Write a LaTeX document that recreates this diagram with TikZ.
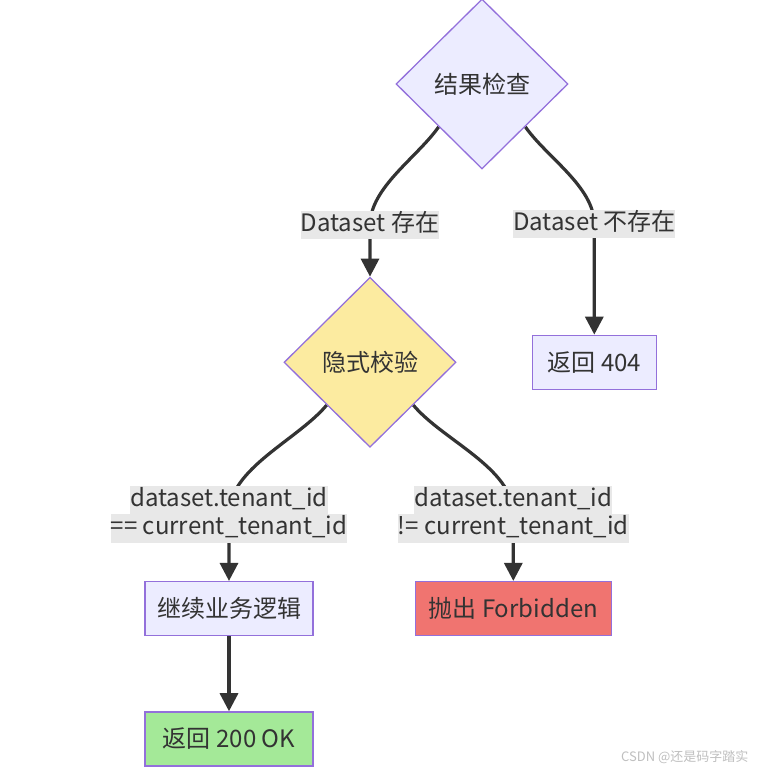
\documentclass[tikz,border=0pt]{standalone}
\usepackage{fontspec}
\setmainfont{Noto Sans CJK SC}
\usepackage{tikz}
\usetikzlibrary{
  shapes.geometric,
  arrows.meta,
  positioning,  % Function "of" (e.g. [below=of x])
  backgrounds,  % Edges go on the background layer
}
\definecolor{ink}{HTML}{333333}
\definecolor{border}{HTML}{9370DB}
\definecolor{lilac}{HTML}{ECECFF}
\definecolor{sand}{HTML}{FCEBA0}
\definecolor{salmon}{HTML}{F07470}
\definecolor{mint}{HTML}{A4E998}
\definecolor{edgebg}{HTML}{E8E8E8}
\setlength{\fboxsep}{0pt}
\newcommand{\lbl}[1]{\colorbox{edgebg}{\rule[-8pt]{0pt}{28.5pt}#1}}
\def\mytxt{\fontsize{24}{28.5}\selectfont}
\tikzset{
  font=\mytxt,
  text=ink,
  my check/.style={
    diamond,
    draw=border,
    line width=1.3pt,
    fill=lilac,
    minimum width=172pt,
    minimum height=170pt,
    inner sep=0pt
  },
  my box/.style={
    rectangle,
    draw=border,
    line width=1.3pt,
    fill=lilac,
    minimum height=54pt,
    inner sep=0pt
  },
  edge label/.style={
    align=center,
    inner sep=0pt
  },
  flow/.style={
    draw=ink,
    line width=3.2pt,
    -{Triangle[length=18pt,width=18pt]}
  },
  watermark/.style={
    font=\fontsize{13}{15}\selectfont,
    text=black!25
  }
}
\begin{document}
\begin{tikzpicture}
\useasboundingbox (0,0) rectangle (759pt,771pt);
\node[my check]                 (d1)  at (482pt,687pt) {结果检查};
\node[my check,fill=sand,xshift=-112pt] (d2) [below=107pt of d1] {隐式校验};
\node[my box,minimum width=124pt] (r404) [right=75pt of d2]  {返回 404};
\node[my box,minimum width=168pt,xshift=-141pt] (chk) [below=133pt of d2] {继续业务逻辑};
\node[my box,minimum width=196pt,fill=salmon] (forb) [right=101pt of chk] {抛出 Forbidden};
\node[my box,minimum width=168pt,fill=mint] (ok) [below=75pt of chk] {返回 200 OK};
\node[edge label] (l1) [above=37pt of d2]   {\lbl{Dataset 存在}};
\node[edge label] (l2) [above=96pt of r404] {\lbl{Dataset 不存在}};
\node[edge label] (l3) [above=38pt of chk]  {\lbl{dataset.tenant\_id}\\\lbl{== current\_tenant\_id}};
\node[edge label] (l4) [above=38pt of forb] {\lbl{dataset.tenant\_id}\\\lbl{!= current\_tenant\_id}};
\node[watermark,anchor=east] (wm) at (752pt,14pt) {CSDN @还是码字踏实};
\begin{scope}[on background layer]
  \draw[flow] (d1.south west) to[out=-125,in=90,looseness=0.8] (l1.center) -- (d2.north);
  \draw[flow] (d1.south east) to[out=-55,in=90,looseness=0.8]  (l2.center) -- (l2.center |- r404.north);
  \draw[flow] (d2.south west) to[out=-130,in=90,looseness=0.8] (l3.center) -- (chk.north);
  \draw[flow] (d2.south east) to[out=-50,in=90,looseness=0.8]  (l4.center) -- (forb.north);
  \draw[flow] (chk) -- (ok);
\end{scope}
\end{tikzpicture}
\end{document}
